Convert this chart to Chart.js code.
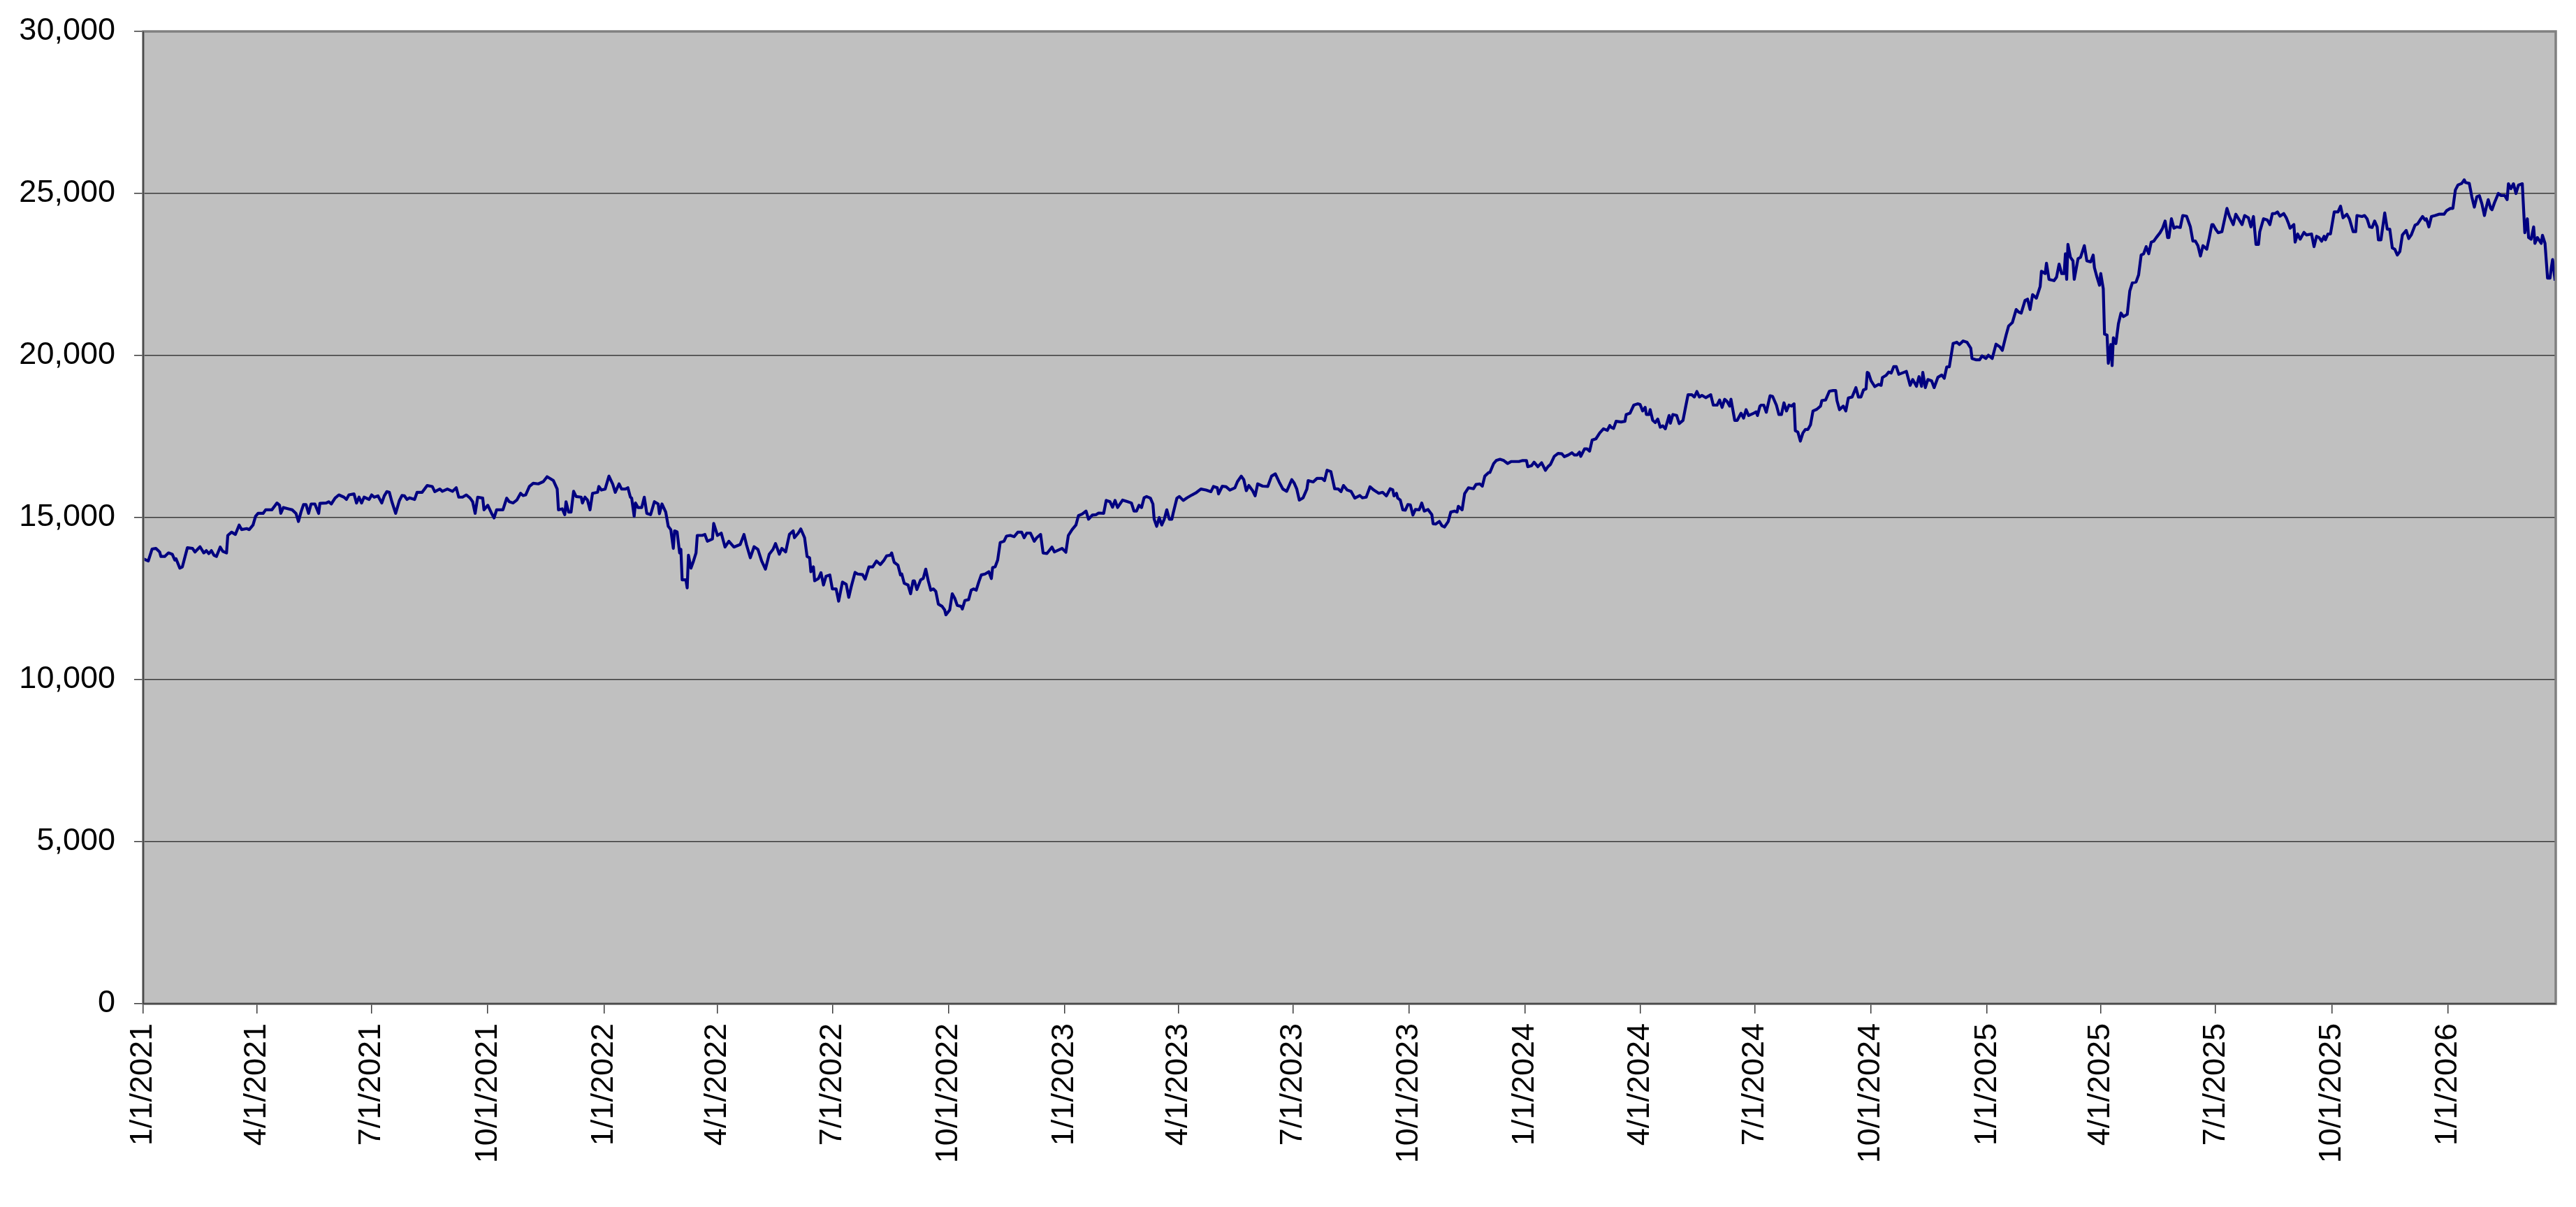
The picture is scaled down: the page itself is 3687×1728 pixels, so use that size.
<!DOCTYPE html>
<html>
<head>
<meta charset="utf-8">
<script src="https://cdn.jsdelivr.net/npm/chart.js@4.4.1/dist/chart.umd.min.js"></script>
<style>
  html, body { margin: 0; padding: 0; background: #ffffff; }
  #wrap { width: 3687px; height: 1728px; }
</style>
</head>
<body>
<div id="wrap"><canvas id="grafico" width="3687" height="1728"></canvas></div>
<script>
// fecha de inicio del eje x, los dias se cuentan desde aqui
const fechaInicio = "1/1/2021"
const fechaFinDias = 1911.5

// etiquetas trimestrales del eje x
const etiquetasX = ["1/1/2021","4/1/2021","7/1/2021","10/1/2021","1/1/2022","4/1/2022","7/1/2022","10/1/2022",
  "1/1/2023","4/1/2023","7/1/2023","10/1/2023","1/1/2024","4/1/2024","7/1/2024","10/1/2024",
  "1/1/2025","4/1/2025","7/1/2025","10/1/2025","1/1/2026"]

// etiquetas del eje y
const etiquetasY = [0, 5000, 10000, 15000, 20000, 25000, 30000]

// dias desde 1/1/2021
const dias = [
0,4,7,10,13,14,17,20,23,25,26,29,31,35,39,41,45,48,50,52,54,56,58,61,63,66,67,70,73,76,78,82,84,87,89,91,95,97,102,106,108,109,111,115,118,121,123,125,127,129,131,133,136,139,140,145,147,149,152,155,159,161,163,167,169,171,173,175,179,181,183,186,189,191,193,195,197,200,203,205,207,209,211,215,217,221,225,229,231,235,237,241,245,248,250,253,256,259,261,263,265,269,270,273,276,278,280,285,
288,290,293,296,299,301,303,306,309,313,317,320,323,325,328,329,332,334,335,337,339,341,343,347,348,350,352,354,356,360,361,363,366,369,372,374,377,379,382,384,386,387,389,390,392,395,397,399,402,405,408,409,411,414,416,418,420,421,423,425,426,427,430,431,432,434,436,438,439,443,445,447,451,452,455,458,461,464,468,473,476,478,481,484,487,490,493,496,499,501,504,506,509,512,515,516,519,521,524,526,528,529,531,532,535,537,539,541,544,546,549,551,554,557,559,561,
564,566,570,572,575,578,581,584,587,589,592,593,595,598,600,601,603,606,608,610,611,613,616,618,620,622,624,626,628,630,633,635,636,639,641,643,645,648,649,651,654,656,658,660,662,664,667,670,672,673,675,677,679,682,684,687,690,693,696,698,700,703,706,708,711,713,716,720,722,728,731,733,736,739,741,744,747,749,752,755,757,761,763,766,768,770,772,776,780,783,785,787,789,791,793,795,798,800,801,803,805,807,809,811,813,815,816,819,821,824,827,831,834,838,
842,846,848,851,852,855,858,861,865,867,870,872,874,876,879,881,883,887,891,894,897,900,903,906,910,912,914,916,919,922,923,927,930,934,936,938,941,944,947,949,951,954,957,960,964,966,969,972,975,979,982,985,988,990,991,993,994,996,998,1000,1002,1004,1006,1008,1011,1013,1015,1018,1021,1022,1024,1027,1029,1031,1034,1036,1039,1041,1042,1045,1047,1050,1054,1056,1059,1061,1063,1066,1067,1070,1072,1075,1078,1081,1084,1090,1093,1096,1097,1100,1102,1105,1108,1111,1113,
1115,1118,1121,1124,1126,1129,1132,1134,1136,1138,1139,1142,1144,1146,1148,1151,1154,1157,1160,1162,1163,1165,1167,1171,1174,1175,1178,1181,1184,1186,1188,1190,1191,1193,1194,1196,1198,1200,1202,1204,1206,1209,1210,1212,1215,1217,1220,1222,1224,1227,1229,1231,1233,1235,1238,1242,1244,1247,1249,1251,1253,1255,1257,1258,1261,1263,1266,1268,1270,1272,1276,1278,1279,1281,1282,1284,1286,1289,1291,1294,1296,1298,1300,1302,1304,1306,1308,1309,1311,1313,1315,1317,1319,1321,1323,1326,1329,1330,1333,1336,1339,1341,1342,1344,1347,1349,1351,1354,1357,1359,1361,1363,1365,1366,1367,1369,1372,1375,1377,1378,1381,1383,1385,1387,1389,1391,
1395,1397,1400,1402,1405,1407,1409,1410,1412,1414,1417,1419,1422,1425,1427,1429,1431,1434,1437,1439,1442,1445,1448,1449,1452,1455,1457,1460,1462,1465,1468,1471,1473,1476,1478,1481,1484,1486,1488,1491,1493,1495,1497,1500,1503,1504,1507,1508,1510,1514,1516,1518,1520,1522,1523,1524,1525,1527,1529,1530,1533,1535,1538,1540,1543,1545,1546,1548,1550,1551,1553,1554,1556,1557,1559,1560,1561,1563,1565,1567,1569,1572,1574,1576,1579,1581,1583,1585,1587,1589,1591,1593,1595,1598,1600,1602,1604,1605,1607,1609,1611,1614,1616,1619,1622,1624,1626,1628,1630,1632,1635,1637,1639,1640,1642,1644,1647,1651,1653,1656,1658,
1663,1665,1668,1670,1672,1674,1676,1677,1680,1683,1685,1687,1689,1691,1693,1696,1698,1700,1701,1704,1705,1707,1709,1712,1714,1718,1720,1722,1724,1726,1728,1729,1731,1733,1736,1739,1741,1743,1746,1748,1751,1753,1754,1758,1760,1762,1764,1766,1768,1770,1771,1773,1776,1778,1780,1782,1784,1786,1788,1790,1793,1795,1797,1800,1802,1804,1806,1808,1809,1811,1813,1816,1819,1823,1825,1828,1830,1831,1832,1834,1837,1839,1840,1843,1844,1845,1847,1849,1851,1853,1855,1856,1858,1860,1861,1863,1866,1868,1871,1873,1874,1876,1878,1880,1882,1885,1887,1889,1890,1892,1894,1895,1897,1900,1901,1903,1905,1907,1908,1909,1911
]

// valores de la serie
const valores = [
13730,13660,14030,14050,13940,13800,13800,13910,13870,13690,13730,13440,13480,14070,14050,13940,14100,13910,13980,13890,13980,13840,13800,14090,13960,13910,14450,14550,14480,14770,14630,14660,14630,14770,15040,15130,15130,15240,15240,15450,15380,15130,15310,15270,15240,15130,14880,15170,15400,15400,15130,15420,15420,15130,15440,15450,15490,15420,15600,15700,15630,15560,15700,15730,15450,15630,15450,15630,15560,15700,15630,15670,15450,15670,15800,15780,15490,15130,15530,15680,15670,15560,15610,15560,15780,15780,15990,15960,15800,15880,15810,15880,15810,15920,15630,15630,15700,15600,15490,15130,15630,15600,15240,15380,15130,14990,15240,15240,
15600,15490,15450,15540,15750,15680,15700,15960,16060,16040,16110,16260,16190,16140,15880,15240,15270,15090,15490,15170,15170,15810,15650,15630,15450,15630,15540,15240,15750,15780,15960,15850,15880,16280,16030,15780,16040,15880,15880,15920,15630,15600,15040,15450,15310,15310,15630,15130,15090,15490,15420,15120,15420,15170,14730,14630,14050,14590,14560,13910,14020,13080,13080,12830,13840,13440,13660,13910,14450,14450,14480,14270,14340,14820,14450,14520,14090,14270,14090,14170,14480,14160,13760,14100,14020,13660,13410,13870,14020,14200,13870,14050,13940,14480,14590,14380,14520,14650,14380,13800,13760,13330,13480,13050,13120,13300,12920,13190,13230,12800,12800,12420,13010,12940,12540,12870,
13310,13260,13240,13100,13480,13480,13660,13550,13690,13820,13840,13910,13620,13530,13230,13260,12970,12920,12650,13050,13050,12780,13080,13120,13410,13050,12760,12800,12720,12330,12260,12150,12000,12150,12650,12510,12290,12260,12180,12440,12470,12760,12800,12760,13010,13230,13260,13330,13120,13460,13480,13690,14230,14270,14430,14450,14410,14550,14550,14380,14520,14520,14270,14380,14480,13910,13890,14090,13940,14050,13930,14450,14630,14770,15060,15110,15200,14950,15080,15090,15140,15130,15530,15490,15320,15530,15310,15540,15490,15450,15200,15200,15380,15310,15610,15650,15600,15420,14950,14730,15000,14770,14950,15240,14950,14950,15130,15600,15650,15530,15610,15700,15760,15880,
15850,15800,15960,15920,15730,15970,15950,15850,15920,16110,16280,16170,15830,15990,15830,15670,16040,15970,15960,16280,16350,16100,15880,15810,16170,16060,15880,15540,15610,15880,16140,16100,16210,16210,16140,16460,16420,15890,15880,15800,15990,15850,15810,15600,15680,15610,15630,15950,15850,15750,15780,15670,15890,15860,15670,15750,15600,15540,15240,15230,15400,15390,15080,15250,15240,15450,15200,15250,15090,14810,14800,14880,14750,14710,14880,15170,15200,15170,15350,15240,15740,15920,15890,16020,16040,15970,16280,16390,16390,16670,16760,16800,16760,16670,16730,16730,16760,16760,16570,16600,16710,16570,16690,16460,16570,
16640,16890,16980,16970,16880,16930,17000,16930,16930,17020,16890,17120,17120,17050,17390,17430,17610,17740,17690,17840,17790,17750,17970,17950,17970,18180,18220,18470,18510,18490,18290,18400,18180,18180,18330,18000,17930,18040,17790,17830,17740,18150,17910,18180,18150,17900,18000,18400,18790,18790,18720,18890,18720,18770,18700,18790,18470,18470,18630,18400,18650,18580,18440,18650,18000,18000,18220,18070,18330,18150,18220,18260,18150,18440,18470,18470,18250,18760,18740,18470,18180,18180,18540,18290,18470,18440,18510,17680,17640,17360,17610,17720,17720,17860,18290,18340,18440,18610,18630,18900,18920,18920,18610,18330,18440,18290,18690,18720,19010,18720,18720,18940,18970,19480,19460,19220,19040,19110,19080,19320,19390,19490,19460,19660,19660,19420,
19480,19510,19080,19260,19050,19350,19050,19480,19010,19260,19220,19010,19330,19400,19300,19650,19650,20370,20410,20340,20450,20410,20230,19910,19870,19870,19990,19910,20010,19910,20350,20270,20160,20630,20910,21020,21420,21340,21310,21700,21740,21420,21880,21770,22130,22600,22530,22850,22350,22310,22420,22820,22530,22530,23140,22350,23430,23030,22920,22350,22990,23030,23390,22920,22890,23100,22710,22420,22170,22530,22060,20660,20630,19760,20340,19690,20550,20370,20980,21310,21200,21270,21990,22240,22270,22490,23100,23140,23360,23140,23500,23530,23640,23790,23930,24150,23640,23640,24220,23930,23970,23950,24320,24300,23970,23530,23530,23390,23070,23390,23280,23640,24040,24040,23900,23790,23820,24540,24290,24040,24360,
24040,24320,24250,23970,24290,23430,23430,23820,24220,24180,24040,24380,24380,24430,24300,24380,24250,24050,23930,24040,23500,23750,23590,23800,23720,23750,23360,23680,23640,23530,23680,23570,23750,23750,24430,24430,24610,24250,24360,24220,23820,23820,24320,24290,24320,24220,23970,23950,24150,23970,23570,23570,24400,23900,23900,23320,23280,23100,23210,23720,23860,23610,23720,24020,24060,24180,24290,24180,24220,23970,24290,24320,24360,24360,24470,24540,24540,24830,25110,25260,25310,25420,25340,25310,25110,24900,24580,24900,24930,24680,24320,24500,24810,24540,24500,24720,25000,24940,24940,24810,25300,25150,25300,25000,25260,25300,23790,24220,23640,23590,23970,23460,23640,23460,23710,23460,22390,22390,22710,22960,22310
]

// convierte "M/D/AAAA" en dias desde la fecha de inicio
function diasDesdeInicio(texto){
    const partes = texto.split("/").map(Number)
    const base = fechaInicio.split("/").map(Number)
    const t = Date.UTC(partes[2], partes[0]-1, partes[1])
    const t0 = Date.UTC(base[2], base[0]-1, base[1])
    return Math.round((t - t0) / 86400000)
}

const ticksX = etiquetasX.map((e)=>({value: diasDesdeInicio(e), label: e}))
const puntos = dias.map((d, i)=>({x: d, y: valores[i]}))

const fuente = { family: "'Liberation Sans', Arial, sans-serif", size: 45 }

// area del grafico buscada (en pixeles del lienzo)
const areaObjetivo = { left: 205, top: 45, right: 3658, bottom: 1437 }

// fondo gris del area del grafico y su borde
const fondoArea = {
    id: "fondoArea",
    beforeDraw(chart){
        const a = chart.chartArea
        const ctx = chart.ctx
        ctx.save()
        ctx.fillStyle = "#c0c0c0"
        ctx.fillRect(a.left, a.top, a.right - a.left, a.bottom - a.top)
        ctx.restore()
    },
    afterDraw(chart){
        const a = chart.chartArea
        const ctx = chart.ctx
        ctx.save()
        ctx.strokeStyle = "#808080"
        ctx.lineWidth = 3.5
        ctx.strokeRect(a.left, a.top, a.right - a.left, a.bottom - a.top)
        ctx.strokeStyle = "#3a3a3a"
        ctx.lineWidth = 1.5
        ctx.beginPath()
        ctx.moveTo(a.left, a.top)
        ctx.lineTo(a.left, a.bottom)
        ctx.lineTo(a.right, a.bottom)
        ctx.stroke()
        ctx.restore()
    }
}

const config = {
    type: "line",
    data: {
        datasets: [{
            data: puntos,
            borderColor: "#000080",
            borderWidth: 4.2,
            borderJoinStyle: "round",
            pointRadius: 0,
            tension: 0,
            fill: false
        }]
    },
    options: {
        responsive: false,
        animation: false,
        layout: { padding: { top: areaObjetivo.top, right: 3687 - areaObjetivo.right, left: 0, bottom: 0 } },
        plugins: { legend: { display: false }, tooltip: { enabled: false } },
        scales: {
            x: {
                type: "linear",
                min: 0,
                max: fechaFinDias,
                afterFit(scale){ scale.height = 1728 - areaObjetivo.bottom },
                afterBuildTicks(scale){ scale.ticks = ticksX.map((t)=>({value: t.value})) },
                border: { display: false },
                grid: { drawOnChartArea: false, drawTicks: true, tickLength: 14, color: "#3a3a3a", lineWidth: 1.5 },
                ticks: {
                    autoSkip: false,
                    maxRotation: 90,
                    minRotation: 90,
                    padding: 14,
                    color: "#000000",
                    font: fuente,
                    callback: (v)=>{
                        const t = ticksX.find((k)=>k.value === v)
                        return t ? t.label : ""
                    }
                }
            },
            y: {
                min: etiquetasY[0],
                max: etiquetasY[etiquetasY.length-1],
                // ancho fijo y sin relleno extra arriba/abajo por las etiquetas
                afterFit(scale){
                    scale.width = areaObjetivo.left
                    scale.paddingTop = 0
                    scale.paddingBottom = 0
                },
                afterBuildTicks(scale){ scale.ticks = etiquetasY.map((v)=>({value: v})) },
                border: { display: false },
                grid: { color: "#3a3a3a", lineWidth: 1.5, tickLength: 13 },
                ticks: {
                    padding: 27,
                    color: "#000000",
                    font: fuente,
                    callback: (v)=>v.toLocaleString("en-US")
                }
            }
        }
    },
    plugins: [fondoArea]
}

new Chart(document.getElementById("grafico"), config)
</script>
</body>
</html>
